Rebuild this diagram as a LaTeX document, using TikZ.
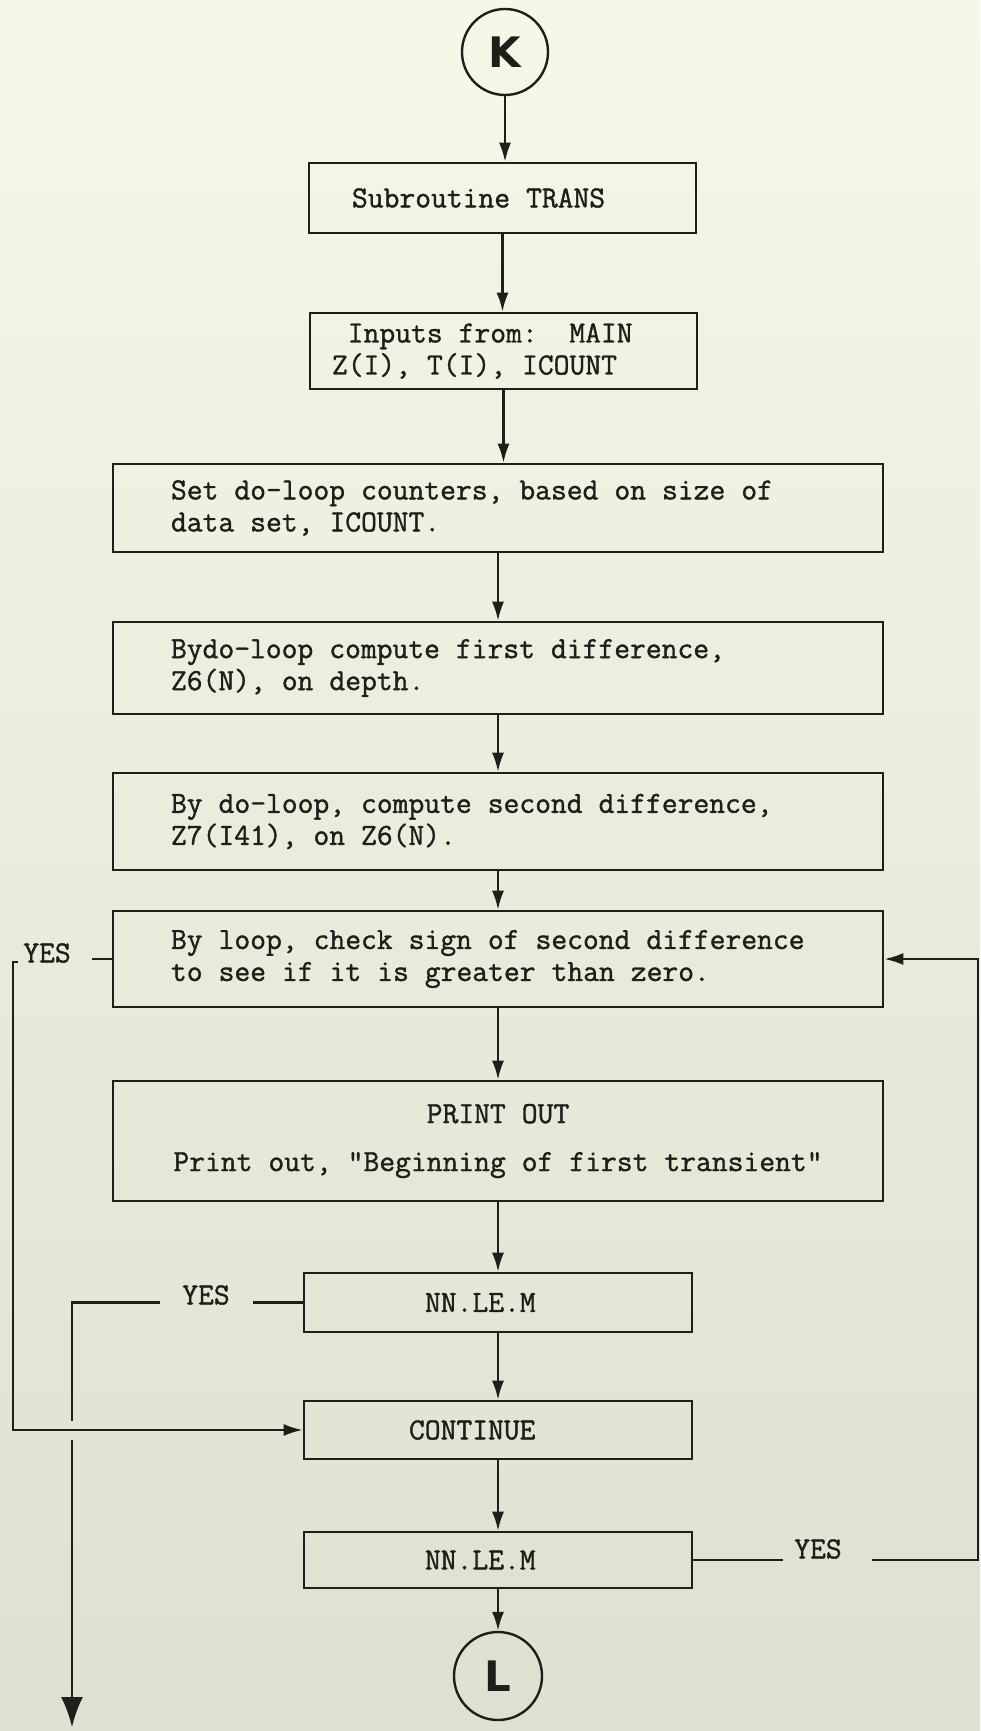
\documentclass[tikz,border=0pt]{standalone}
\usepackage{fontspec}
\newfontfamily\typer{Latin Modern Mono}
\newfontfamily\lettr{DejaVu Sans}
\usetikzlibrary{arrows.meta,calc}

\definecolor{ink}{HTML}{1E1E1B}
\definecolor{paperA}{HTML}{F7F7E8}
\definecolor{paperB}{HTML}{E0E0D0}

% typewriter face, slightly heavier than the stock one
\newcommand\typeface{\typer\fontsize{30.7pt}{32pt}\selectfont\addfontfeatures{FakeBold=1.2}}
% fixed-pitch word space (align=left would otherwise narrow it)
\newcommand\fixedspace{\spaceskip=16pt\relax\xspaceskip=16pt\relax}

\begin{document}
\begin{tikzpicture}[x=1pt,y=-1pt,
  every node/.append style={font=\typeface, text=ink},
  box/.style={draw=ink, line width=2.6pt, rectangle, inner ysep=0pt, align=left,
    execute at begin node=\fixedspace},
  widebox/.style={box, minimum width=770pt, text width=654pt, inner xsep=58pt},
  narrowbox/.style={box, minimum width=388pt},
  conn/.style={draw=ink, circle, line width=2.4pt, minimum size=86pt, inner sep=0pt,
    font={\lettr\bfseries\fontsize{42pt}{42pt}\selectfont}},
  lbl/.style={inner sep=0pt},
  wire/.style={draw=ink, line width=2.3pt},
  flow/.style={wire, -{Latex[length=19pt,width=12pt]}},
  bigflow/.style={wire, -{Latex[length=30pt,width=22pt]}}
]
% paper
\shade[top color=paperA, bottom color=paperB] (0,0) rectangle (980,1731);
\useasboundingbox (0,0) rectangle (980,1731);

% connectors K and L
\node[conn] (K) at (505,52) {K};
\node[conn, minimum size=88pt] (L) at (498,1676) {L};

% process boxes
\node[narrowbox, minimum width=387pt, minimum height=70pt, inner xsep=43pt, text width=301pt]
  (b1) at (502.5,198) {Subroutine TRANS};
\node[narrowbox, minimum width=387pt, minimum height=76pt, inner xsep=22pt, text width=343pt]
  (b2) at (503.5,351) {\hphantom{I}Inputs from:\hphantom{II}MAIN\\Z(I), T(I), ICOUNT};
\node[widebox, minimum height=88pt] (b3) at (498,508)
  {Set do-loop counters, based on size of\\data set, ICOUNT.};
\node[widebox, minimum height=92pt] (b4) at (498,668)
  {Bydo-loop compute first difference,\\Z6(N), on depth.};
\node[widebox, minimum height=97pt] (b5) at (498,821.5)
  {By do-loop, compute second difference,\\Z7(I41), on Z6(N).};
\node[widebox, minimum height=96pt] (b6) at (498,959)
  {By loop, check sign of second difference\\to see if it is greater than zero.};
\node[widebox, minimum height=120pt, align=center] (b7) at (498,1141)
  {PRINT OUT\\[16pt]Print out, "Beginning of first transient"};
\node[narrowbox, minimum height=59pt, inner xsep=121pt, text width=146pt]
  (d1) at (498,1302.5) {NN.LE.M};
\node[narrowbox, minimum height=58pt, inner xsep=105pt, text width=178pt]
  (cont) at (498,1430) {CONTINUE};
\node[narrowbox, minimum height=56pt, inner xsep=121pt, text width=146pt]
  (d2) at (498,1560) {NN.LE.M};

% YES labels
\node[lbl] (yes1) at (47,953) {YES};
\node[lbl] (yes2) at (206,1295) {YES};
\node[lbl] (yes3) at (818,1549) {YES};

% main flow
\draw[flow] (K.south) -- (K.south |- b1.north);
\draw[flow] (b1.south) -- (b1.south |- b2.north);
\draw[flow] (b2.south) -- (b2.south |- b3.north);
\draw[flow] (b3) -- (b4);
\draw[flow] (b4) -- (b5);
\draw[flow] (b5) -- (b6);
\draw[flow] (b6) -- (b7);
\draw[flow] (b7) -- (d1);
\draw[flow] (d1) -- (cont);
\draw[flow] (cont) -- (d2);
\draw[flow] (d2) -- (L);

% loop back from the sign check to CONTINUE
\coordinate (y1out) at (92,959);
\coordinate (y1hook) at (18,962);
\coordinate (y1corner) at (13,962);
\draw[wire] (b6.west) -- (y1out);
\draw[flow] (y1hook) -- (y1corner) |- (cont.west);

% exit from the first NN.LE.M test
\coordinate (y2out) at (253,1302.5);
\coordinate (y2in) at (160,1302.5);
\coordinate (y2corner) at (72,1302.5);
\coordinate (y2gapA) at (72,1421);
\coordinate (y2gapB) at (72,1440);
\coordinate (exit) at (72,1727);
\draw[wire] (d1.west) -- (y2out);
\draw[wire] (y2in) -- (y2corner) -- (y2gapA);
\draw[bigflow] (y2gapB) -- (exit);

% loop back from the second NN.LE.M test to the sign check
\coordinate (y3out) at (783,1560);
\coordinate (y3in) at (872,1560);
\coordinate (y3corner) at (978,1560);
\draw[wire] (d2.east) -- (y3out);
\draw[flow] (y3in) -- (y3corner) |- (b6.east);
\end{tikzpicture}
\end{document}
